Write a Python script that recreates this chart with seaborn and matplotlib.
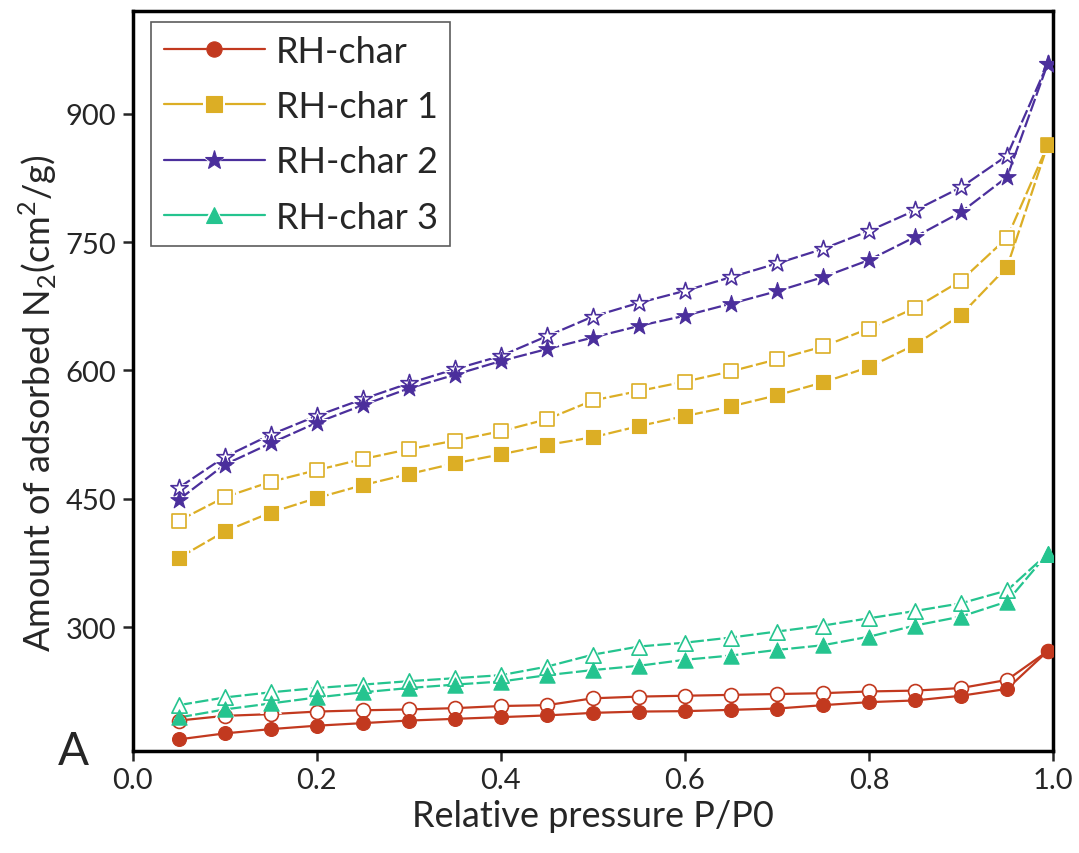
import numpy as np
import pandas as pd
import matplotlib
matplotlib.use("Agg")
import matplotlib.pyplot as plt
import seaborn as sns
from matplotlib.lines import Line2D

# ===================== 数据 =====================
pressure = [0.05, 0.10, 0.15, 0.20, 0.25, 0.30, 0.35, 0.40, 0.45, 0.50,
            0.55, 0.60, 0.65, 0.70, 0.75, 0.80, 0.85, 0.90, 0.95, 0.994]

# 吸附（实心）/ 脱附（空心）
rh_ads = [169, 176, 181, 185, 188, 191, 193, 195, 197, 200,
          201.5, 202, 203.5, 205, 209, 212.5, 214.5, 220, 228, 272]
rh_des = [191, 196.5, 198.5, 201.5, 203, 204, 205.5, 208, 209, 217,
          219, 220, 221, 222, 223, 225, 226, 229, 238.5, 272]

rh1_ads = [381, 412, 434, 451, 466, 479, 491.5, 502, 513, 522,
           535, 546.7, 558, 571, 586, 604, 630, 665, 721, 863]
rh1_des = [424.5, 452, 470, 483.6, 496.5, 508, 518, 529, 543, 565,
           576, 587, 599, 613, 628, 649, 673, 705, 755, 863]

rh2_ads = [449, 490, 515, 539, 559.5, 579, 595, 611, 625, 638.5,
           652, 664, 678, 692.6, 709, 729, 756, 785, 826, 958]
rh2_des = [463, 499, 525, 547, 566.5, 585, 601.5, 617, 640, 663,
           679, 693, 709, 725, 742, 763, 787, 814, 851, 958]

rh3_ads = [194.6, 204, 211, 218, 224, 229, 233, 236.6, 244, 250,
           255, 262, 267, 273.5, 279, 289, 302, 312.5, 330, 386]
rh3_des = [209, 218, 224, 229, 233, 237, 240.5, 244, 254, 268,
           277.5, 282, 288, 295, 302, 310.5, 319, 328, 343, 386]

labels = ["RH-char", "RH-char 1", "RH-char 2", "RH-char 3"]
colors = ["#C2391F", "#DCAE25", "#4B2F9C", "#25C48F"]
markers = ["o", "s", "*", "^"]
msizes = [10, 10, 13, 11]
gaps = [0, 2.5, 2.5, 2.5]          # 符号周围留白（pt）
dash_styles = ["-", (0, (6, 1.5)), (0, (6, 1.5)), (0, (6, 1.5))]

ads_list = [rh_ads, rh1_ads, rh2_ads, rh3_ads]
des_list = [rh_des, rh1_des, rh2_des, rh3_des]

# ===================== 绘图 =====================
sns.set_style("white")
plt.rcParams['font.family'] = ['Lato', 'DejaVu Sans']
plt.rcParams['mathtext.fontset'] = 'custom'
plt.rcParams['mathtext.rm'] = 'Lato'

fig = plt.figure(figsize=(10.79, 8.54), dpi=100)
ax = fig.add_axes([0.123, 0.12, 0.853, 0.866])

for i in range(4):
    df = pd.DataFrame({"x": pressure, "ads": ads_list[i], "des": des_list[i]})
    for col, face, mew in [("des", "white", 1.2), ("ads", colors[i], 0.8)]:
        # 线 + 白色底块（线在符号处断开）
        sns.lineplot(data=df, x="x", y=col, ax=ax, color=colors[i],
                     linestyle=dash_styles[i], linewidth=1.6,
                     marker=markers[i], markersize=msizes[i] + 2 * gaps[i],
                     markerfacecolor="white", markeredgewidth=0, zorder=2)
        # 符号
        sns.scatterplot(data=df, x="x", y=col, ax=ax, marker=markers[i],
                        s=msizes[i] ** 2, color=face, edgecolor=colors[i],
                        linewidth=mew, zorder=3)

ax.set_xlim(0, 1.0)
ax.set_ylim(156, 1020)
ax.set_xticks([0.0, 0.2, 0.4, 0.6, 0.8, 1.0])
ax.set_xticklabels(["0.0", "0.2", "0.4", "0.6", "0.8", "1.0"])
ax.set_yticks([300, 450, 600, 750, 900])
ax.tick_params(direction="out", length=7, width=1.8, labelsize=21,
               bottom=True, left=True, pad=5)
for s in ax.spines.values():
    s.set_linewidth(2.5)
    s.set_color("black")

ax.set_xlabel("Relative pressure P/P0", fontsize=26, labelpad=4)
ax.set_ylabel(r"Amount of adsorbed N$_2$(cm$^2$/g)", fontsize=26)
ax.yaxis.set_label_coords(-0.08, 0.47)
fig.text(0.054, 1 - 765 / 854, "A", fontsize=33, ha="left", va="baseline")

# 图例：线 + 白底 + 实心符号叠加（符号两侧线断开）
handles = []
for i in range(4):
    ln = Line2D([], [], color=colors[i], linestyle="-", linewidth=1.6)
    blob = Line2D([], [], linestyle="none", marker=markers[i],
                  markersize=msizes[i] + 1 + 2 * gaps[i],
                  markerfacecolor="white", markeredgewidth=0)
    mk = Line2D([], [], linestyle="none", marker=markers[i],
                markersize=msizes[i] + 1, markerfacecolor=colors[i],
                markeredgecolor=colors[i], markeredgewidth=0.8)
    handles.append((ln, blob, mk))

leg = ax.legend(handles, labels, loc="upper left", fontsize=26,
                bbox_to_anchor=(0.02, 0.985), borderaxespad=0,
                frameon=True, fancybox=False, edgecolor="#333333",
                handlelength=2.8, labelspacing=0.62,
                handletextpad=0.3, borderpad=0.35)
leg.get_frame().set_linewidth(1.2)

fig.savefig("out.png", dpi=100)
